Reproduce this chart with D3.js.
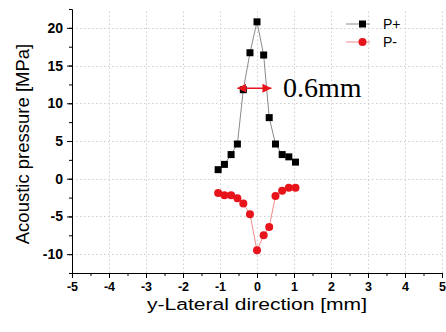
<!DOCTYPE html>
<html>
<head>
<meta charset="utf-8">
<script src="https://cdn.jsdelivr.net/npm/d3@7"></script>
<style>
  html, body { margin: 0; padding: 0; background: #fff; }
  svg { display: block; }
  .tick text { font-weight: bold; }
</style>
</head>
<body>
<script>
// Data
const LATERAL  = [-1.05, -0.88, -0.70, -0.53, -0.37, -0.19, 0, 0.18, 0.33, 0.50, 0.68, 0.86, 1.04];
const P_PLUS   = [1.2, 1.9, 3.2, 4.6, 11.8, 16.7, 20.8, 16.4, 8.1, 4.6, 3.2, 2.9, 2.2];
const P_MINUS  = [-1.9, -2.2, -2.2, -2.6, -3.3, -4.7, -9.5, -7.5, -6.4, -2.3, -1.6, -1.2, -1.2];
const X_TICKS  = [-5, -4, -3, -2, -1, 0, 1, 2, 3, 4, 5];
const Y_TICKS  = [-10, -5, 0, 5, 10, 15, 20];
const WIDTH_MARK = { from: -0.53, to: 0.39, level: 12, label: '0.6mm' };

// Dimensions
const W = 446, H = 332;
const margin = { top: 9, right: 4, bottom: 59, left: 72 };
const FONT = "'Liberation Sans', Arial, sans-serif";

const x = d3.scaleLinear().domain([-5, 5]).range([margin.left, W - margin.right]);
const y = d3.scaleLinear().domain([-12.5, 22.5]).range([H - margin.bottom, margin.top]);

const svg = d3.select('body').append('svg')
  .attr('width', W)
  .attr('height', H)
  .attr('font-family', FONT);

svg.append('rect').attr('width', W).attr('height', H).attr('fill', '#fff');

const defs = svg.append('defs');
defs.append('marker')
  .attr('id', 'head')
  .attr('viewBox', '0 0 10 10')
  .attr('refX', 10).attr('refY', 5)
  .attr('markerWidth', 9).attr('markerHeight', 9)
  .attr('markerUnits', 'userSpaceOnUse')
  .attr('orient', 'auto-start-reverse')
  .append('path').attr('d', 'M0,0L10,5L0,10Z').attr('fill', '#e8141b');

// Grid
const grid = svg.append('g').attr('stroke', '#cfcfcf').attr('stroke-dasharray', '1.5,2.5').attr('stroke-width', 1);
grid.selectAll('.gx').data(X_TICKS.filter(d => d > -5)).join('line')
  .attr('x1', d => Math.round(x(d)) + 0.5).attr('x2', d => Math.round(x(d)) + 0.5)
  .attr('y1', y.range()[0]).attr('y2', y.range()[1]);
grid.selectAll('.gy').data(Y_TICKS).join('line')
  .attr('y1', d => Math.round(y(d)) + 0.5).attr('y2', d => Math.round(y(d)) + 0.5)
  .attr('x1', x.range()[0]).attr('x2', x.range()[1]);

// Axes (hyphen minus like the original, not the unicode one)
const fmt = d => String(d);
const styleAxis = size => g => {
  g.selectAll('text')
    .attr('font-size', size).attr('font-weight', 'bold').attr('fill', '#000')
    .attr('font-family', FONT);
  g.selectAll('path, line').attr('stroke', '#000');
};
const xAxis = g => {
  g.attr('transform', `translate(0,${y.range()[0]})`)
    .call(d3.axisBottom(x).tickValues(d3.range(-5, 5.01, 0.5)).tickSize(3).tickFormat(''))
    .call(g => g.append('g')
      .call(d3.axisBottom(x).tickValues(X_TICKS).tickSize(5).tickPadding(4).tickFormat(fmt))
      .call(g => g.select('.domain').remove()))
    .call(styleAxis(12.5));
};
const yAxis = g => {
  g.attr('transform', `translate(${x.range()[0]},0)`)
    .call(d3.axisLeft(y).tickValues(d3.range(-12.5, 22.51, 2.5)).tickSize(3).tickFormat(''))
    .call(g => g.append('g')
      .call(d3.axisLeft(y).tickValues(Y_TICKS).tickSize(5).tickPadding(4).tickFormat(fmt))
      .call(g => g.select('.domain').remove()))
    .call(styleAxis(14));
};
svg.append('g').call(xAxis);
svg.append('g').call(yAxis);

// Axis titles
const xMid = (x.range()[0] + x.range()[1]) / 2;
svg.append('text')
  .attr('transform', `translate(${xMid},310) scale(1.24,1)`)
  .attr('text-anchor', 'middle')
  .attr('font-size', 17)
  .text('y-Lateral direction [mm]');
svg.append('text')
  .attr('transform', 'translate(29,144) rotate(-90)')
  .attr('text-anchor', 'middle')
  .attr('font-size', 18.5)
  .text('Acoustic pressure [MPa]');

// Series
const line = d3.line().x(d => x(d[0])).y(d => y(d[1]));
const plus  = LATERAL.map((d, i) => [d, P_PLUS[i]]);
const minus = LATERAL.map((d, i) => [d, P_MINUS[i]]);

svg.append('path').datum(plus).attr('d', line).attr('fill', 'none').attr('stroke', '#8a8a8a').attr('stroke-width', 1);
svg.append('path').datum(minus).attr('d', line).attr('fill', 'none').attr('stroke', '#f08a8a').attr('stroke-width', 1);

svg.selectAll('.sq').data(plus).join('rect')
  .attr('x', d => x(d[0]) - 3.5).attr('y', d => y(d[1]) - 3.5)
  .attr('width', 7).attr('height', 7).attr('fill', '#000');
svg.selectAll('.ci').data(minus).join('circle')
  .attr('cx', d => x(d[0])).attr('cy', d => y(d[1])).attr('r', 4).attr('fill', '#e8141b');

// Width annotation
svg.append('line')
  .attr('x1', x(WIDTH_MARK.from)).attr('x2', x(WIDTH_MARK.to))
  .attr('y1', y(WIDTH_MARK.level)).attr('y2', y(WIDTH_MARK.level))
  .attr('stroke', '#e8141b').attr('stroke-width', 1.5)
  .attr('marker-start', 'url(#head)').attr('marker-end', 'url(#head)');
svg.append('text')
  .attr('x', 283).attr('y', 97)
  .attr('font-family', "'Liberation Serif', 'Times New Roman', serif")
  .attr('font-size', 28)
  .text(WIDTH_MARK.label);

// Legend
const legend = svg.append('g').attr('transform', 'translate(346,0)');
[{ name: 'P+', color: '#000', stroke: '#8a8a8a', shape: 'sq', yy: 24 },
 { name: 'P-', color: '#e8141b', stroke: '#f08a8a', shape: 'ci', yy: 42 }].forEach(s => {
  legend.append('line').attr('x1', 0).attr('x2', 24).attr('y1', s.yy).attr('y2', s.yy)
    .attr('stroke', s.stroke).attr('stroke-width', 1);
  if (s.shape === 'sq') {
    legend.append('rect').attr('x', 13).attr('y', s.yy - 3.5).attr('width', 7).attr('height', 7).attr('fill', s.color);
  } else {
    legend.append('circle').attr('cx', 16.5).attr('cy', s.yy).attr('r', 4).attr('fill', s.color);
  }
  legend.append('text').attr('x', 37).attr('y', s.yy).attr('dy', '0.35em')
    .attr('font-size', 14).text(s.name);
});
</script>
</body>
</html>
